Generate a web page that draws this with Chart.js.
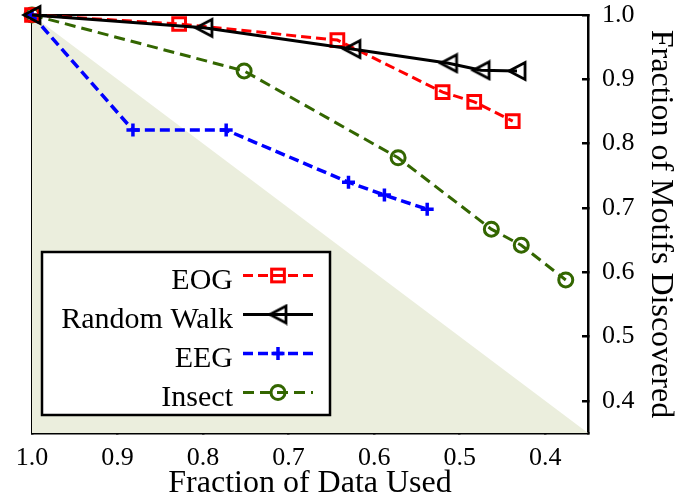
<!DOCTYPE html>
<html>
<head>
<meta charset="utf-8">
<script src="https://cdn.jsdelivr.net/npm/chart.js@4.4.0/dist/chart.umd.min.js"></script>
<style>
  body { margin: 0; background: #fff; }
  #wrap { width: 677px; height: 503px; }
</style>
</head>
<body>
<div id="wrap"><canvas id="myChart" width="677" height="503"></canvas></div>
<script>
// values (x = fraction of data used, y = fraction of motifs)
const seriesNames = ['EOG', 'Random Walk', 'EEG', 'Insect'];
const eogX = [1.0, 0.828, 0.643, 0.520, 0.483, 0.438];
const eogY = [1.0, 0.986, 0.961, 0.880, 0.865, 0.835];
const walkX = [1.0, 0.799, 0.626, 0.513, 0.475, 0.433];
const walkY = [1.0, 0.980, 0.947, 0.925, 0.914, 0.913];
const eegX = [1.0, 0.882, 0.773, 0.630, 0.588, 0.538];
const eegY = [1.0, 0.821, 0.821, 0.740, 0.720, 0.698];
const insectX = [1.0, 0.752, 0.572, 0.463, 0.428, 0.376];
const insectY = [1.0, 0.913, 0.778, 0.667, 0.642, 0.588];
// diagonal y = x, shaded underneath
const diagX = [1.0, 0.35];
const diagY = [1.0, 0.35];
const axisMin = 0.35;
const axisMax = 1.0;

const serif = "'Liberation Serif', 'Times New Roman', serif";

function pairs(xs, ys) {
    return xs.map((x, i) => ({ x: x, y: ys[i] }));
}

// left pointing triangle like matlab's '<' marker
function makeTriangle() {
    const c = document.createElement('canvas');
    c.width = 22;
    c.height = 22;
    const g = c.getContext('2d');
    g.strokeStyle = '#000';
    g.lineWidth = 2.8;
    g.lineJoin = 'miter';
    g.beginPath();
    g.moveTo(3, 11);
    g.lineTo(19, 2.5);
    g.lineTo(19, 19.5);
    g.closePath();
    g.stroke();
    return c;
}
const triangle = makeTriangle();

// box round the plot area (top and left sides)
const boxPlugin = {
    id: 'box',
    beforeDatasetsDraw(chart) {
        const a = chart.chartArea;
        const ctx = chart.ctx;
        ctx.save();
        ctx.strokeStyle = '#000';
        ctx.lineWidth = 2;
        ctx.beginPath();
        ctx.moveTo(a.left, a.bottom);
        ctx.lineTo(a.left, a.top);
        ctx.lineTo(a.right, a.top);
        ctx.stroke();
        ctx.restore();
    }
};

// legend with the text on the left and the sample on the right
const legendPlugin = {
    id: 'sideLegend',
    afterDatasetsDraw(chart) {
        const ctx = chart.ctx;
        ctx.save();
        ctx.fillStyle = '#fff';
        ctx.fillRect(42, 252, 288, 163);
        ctx.strokeStyle = '#000';
        ctx.lineWidth = 2.5;
        ctx.strokeRect(42, 252, 288, 163);

        const sets = chart.data.datasets.filter(d => d.inLegend);
        sets.forEach((d, i) => {
            const y = 275.5 + i * 39;
            ctx.fillStyle = '#000';
            ctx.font = '30px ' + serif;
            ctx.textAlign = 'right';
            ctx.textBaseline = 'alphabetic';
            ctx.fillText(d.label, 233, y + 13);

            ctx.strokeStyle = d.borderColor;
            ctx.lineWidth = d.borderWidth;
            ctx.setLineDash(d.borderDash || []);
            ctx.beginPath();
            ctx.moveTo(243, y);
            ctx.lineTo(313, y);
            ctx.stroke();
            ctx.setLineDash([]);

            const mx = 278;
            ctx.lineWidth = d.pointBorderWidth;
            ctx.strokeStyle = d.pointBorderColor;
            if (d.pointStyle === 'rect') {
                const s = d.pointRadius * Math.SQRT1_2;
                ctx.strokeRect(mx - s, y - s, 2 * s, 2 * s);
            } else if (d.pointStyle === 'circle') {
                ctx.beginPath();
                ctx.arc(mx, y, d.pointRadius, 0, Math.PI * 2);
                ctx.stroke();
            } else if (d.pointStyle === 'cross') {
                const r = d.pointRadius;
                ctx.beginPath();
                ctx.moveTo(mx - r, y);
                ctx.lineTo(mx + r, y);
                ctx.moveTo(mx, y - r);
                ctx.lineTo(mx, y + r);
                ctx.stroke();
            } else {
                ctx.drawImage(d.pointStyle, mx - d.pointStyle.width / 2, y - d.pointStyle.height / 2);
            }
        });
        ctx.restore();
    }
};

const ctx = document.getElementById('myChart');

new Chart(ctx, {
    type: 'line',
    data: {
        datasets: [
            {
                label: 'diagonal',
                data: pairs(diagX, diagY),
                borderWidth: 0,
                borderColor: 'rgba(0,0,0,0)',
                backgroundColor: '#ebeedd',
                fill: 'start',
                pointRadius: 0,
                order: 10
            },
            {
                label: seriesNames[0],
                inLegend: true,
                data: pairs(eogX, eogY),
                borderColor: '#ff0000',
                borderWidth: 3,
                borderDash: [10, 5],
                pointStyle: 'rect',
                pointRadius: 9,
                pointBorderWidth: 3,
                pointBorderColor: '#ff0000',
                pointBackgroundColor: 'rgba(0,0,0,0)',
                fill: false,
                clip: false,
                order: 1
            },
            {
                label: seriesNames[1],
                inLegend: true,
                data: pairs(walkX, walkY),
                borderColor: '#000000',
                borderWidth: 3,
                pointStyle: triangle,
                pointRadius: 9,
                pointBorderWidth: 3,
                pointBorderColor: '#000000',
                pointBackgroundColor: 'rgba(0,0,0,0)',
                fill: false,
                clip: false,
                order: 0
            },
            {
                label: seriesNames[2],
                inLegend: true,
                data: pairs(eegX, eegY),
                borderColor: '#0000ff',
                borderWidth: 3.5,
                borderDash: [10, 5],
                pointStyle: 'cross',
                pointRadius: 6.5,
                pointBorderWidth: 3.5,
                pointBorderColor: '#0000ff',
                pointBackgroundColor: 'rgba(0,0,0,0)',
                fill: false,
                clip: false,
                order: 2
            },
            {
                label: seriesNames[3],
                inLegend: true,
                data: pairs(insectX, insectY),
                borderColor: '#336600',
                borderWidth: 3,
                borderDash: [11, 6],
                pointStyle: 'circle',
                pointRadius: 7,
                pointBorderWidth: 3,
                pointBorderColor: '#336600',
                pointBackgroundColor: 'rgba(0,0,0,0)',
                fill: false,
                clip: false,
                order: 3
            }
        ]
    },
    options: {
        responsive: false,
        animation: false,
        events: [],
        layout: {
            padding: { top: 15, left: 32, right: 0, bottom: 0 }
        },
        plugins: {
            legend: { display: false },
            tooltip: { enabled: false }
        },
        elements: {
            line: { tension: 0 }
        },
        scales: {
            x: {
                type: 'linear',
                reverse: true,
                min: axisMin,
                max: axisMax,
                afterFit: s => {
                    s.height = 70;
                    s.paddingLeft = 0;
                    s.paddingRight = 0;
                },
                border: { display: true, color: '#000', width: 2.5 },
                grid: {
                    drawOnChartArea: false,
                    drawTicks: true,
                    tickLength: -6,
                    tickColor: '#000',
                    lineWidth: 2.5
                },
                ticks: {
                    stepSize: 0.1,
                    includeBounds: false,
                    padding: 16,
                    maxRotation: 0,
                    color: '#000',
                    font: { family: serif, size: 26 },
                    callback: v => v.toFixed(1)
                },
                title: {
                    display: true,
                    text: 'Fraction of Data Used',
                    color: '#000',
                    font: { family: serif, size: 32 },
                    padding: { top: -3, bottom: 0 }
                }
            },
            y: {
                type: 'linear',
                position: 'right',
                min: axisMin,
                max: axisMax,
                afterFit: s => {
                    s.width = 89;
                    s.paddingTop = 0;
                    s.paddingBottom = 0;
                },
                border: { display: true, color: '#000', width: 2.5 },
                grid: {
                    drawOnChartArea: false,
                    drawTicks: true,
                    tickLength: -6,
                    tickColor: '#000',
                    lineWidth: 2.5
                },
                ticks: {
                    stepSize: 0.1,
                    includeBounds: false,
                    padding: 20,
                    color: '#000',
                    font: { family: serif, size: 26 },
                    callback: v => v.toFixed(1)
                },
                title: {
                    display: true,
                    text: 'Fraction of Motifs Discovered',
                    color: '#000',
                    font: { family: serif, size: 32 },
                    padding: { top: -3, bottom: 0 }
                }
            }
        }
    },
    plugins: [boxPlugin, legendPlugin]
});
</script>
</body>
</html>
